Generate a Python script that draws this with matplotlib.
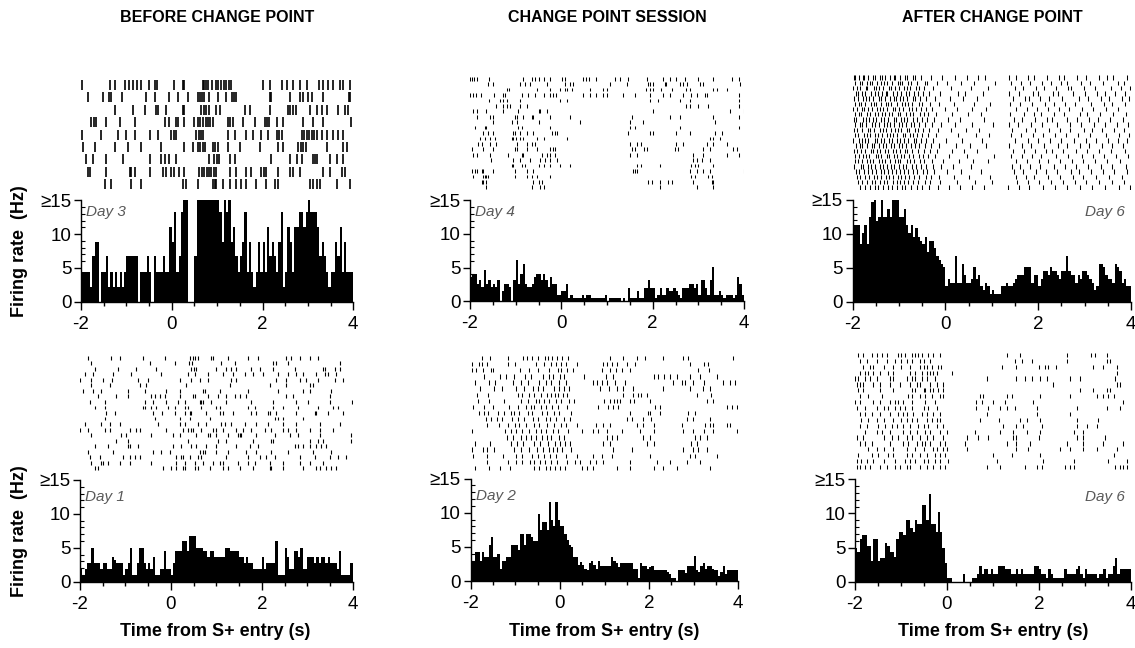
import matplotlib
matplotlib.use("Agg")
import matplotlib.pyplot as plt
import numpy as np
from matplotlib.ticker import MultipleLocator

plt.rcParams['font.family'] = ['Liberation Sans', 'DejaVu Sans']
plt.rcParams['axes.unicode_minus'] = False

# ---------------- data ----------------
BIN_WIDTH = 0.05
T_START, T_END = -2.0, 4.0
COLUMN_TITLES = ["BEFORE CHANGE POINT", "CHANGE POINT SESSION", "AFTER CHANGE POINT"]
X_TICKS = [-2, 0, 2, 4]
Y_TICKS = [0, 5, 10, 15]
Y_TICK_LABELS = ["0", "5", "10", "\u226515"]

# PSTH firing rates (Hz), 50 ms bins from -2 s to 4 s
HIST_BEFORE_DAY3 = [
    4.4, 4.4, 4.4, 4.4, 2.2, 6.7, 8.9, 8.9, 0.0, 4.4,
    4.4, 6.7, 2.2, 4.4, 2.2, 4.4, 2.2, 4.4, 2.2, 4.4,
    6.7, 6.7, 6.7, 6.7, 6.7, 0.0, 4.4, 4.4, 4.4, 6.7,
    4.4, 0.0, 6.7, 4.4, 4.4, 4.4, 6.7, 4.4, 4.4, 11.1,
    8.9, 13.3, 4.4, 6.7, 13.3, 15.6, 15.6, 0.0, 0.0, 0.0,
    6.7, 15.6, 15.6, 15.6, 15.6, 15.6, 15.6, 15.6, 15.6, 15.6,
    15.6, 13.3, 8.9, 15.6, 13.3, 15.6, 8.9, 11.1, 6.7, 4.4,
    6.7, 8.9, 13.3, 4.4, 8.9, 4.4, 2.2, 4.4, 8.9, 4.4,
    8.9, 4.4, 11.1, 6.7, 8.9, 6.7, 4.4, 8.9, 13.3, 2.2,
    4.4, 11.1, 8.9, 4.4, 11.1, 11.1, 13.3, 13.3, 11.1, 13.3,
    15.6, 13.3, 13.3, 13.3, 11.1, 6.7, 8.9, 6.7, 4.4, 2.2,
    4.4, 4.4, 8.9, 6.7, 11.1, 4.4, 8.9, 4.4, 4.4, 4.4]
HIST_CP_DAY4 = [
    3.6, 4.1, 4.1, 2.6, 3.1, 2.1, 4.6, 2.6, 3.1, 2.1,
    2.6, 2.1, 3.1, 0.0, 1.5, 2.6, 2.6, 2.1, 0.0, 3.1,
    6.2, 2.6, 4.1, 5.6, 2.6, 2.1, 2.1, 2.6, 3.6, 4.1,
    4.1, 3.1, 4.1, 3.1, 2.1, 3.6, 2.6, 2.6, 1.0, 1.0,
    1.5, 1.5, 2.6, 0.5, 1.0, 0.5, 0.5, 0.5, 0.5, 1.0,
    0.5, 1.0, 1.0, 0.5, 0.5, 0.5, 0.5, 0.5, 0.5, 1.0,
    0.0, 0.5, 0.5, 0.5, 0.5, 0.5, 0.0, 0.5, 0.0, 2.0,
    0.5, 0.5, 0.5, 1.5, 0.5, 0.5, 2.0, 2.0, 3.1, 2.0,
    2.0, 0.5, 1.0, 2.0, 1.0, 1.0, 2.0, 1.5, 1.5, 2.0,
    1.5, 1.0, 0.5, 2.0, 2.0, 2.0, 2.6, 2.6, 2.0, 2.6,
    1.0, 3.1, 3.1, 2.0, 1.0, 3.1, 5.1, 1.0, 1.0, 1.5,
    1.0, 0.5, 1.0, 1.0, 1.0, 0.5, 1.0, 3.6, 2.6, 1.0]
HIST_AFTER_DAY6_TOP = [
    11.3, 11.3, 11.3, 8.5, 10.2, 11.3, 8.5, 12.5, 14.7, 15.0,
    11.9, 12.5, 15.0, 12.5, 12.5, 13.6, 12.5, 15.0, 15.0, 15.0,
    12.5, 12.5, 13.6, 11.3, 10.2, 11.3, 9.6, 10.8, 9.6, 9.0,
    8.5, 9.6, 7.3, 9.0, 9.0, 7.9, 6.8, 6.2, 5.6, 5.1,
    2.3, 3.4, 2.8, 2.8, 6.8, 2.8, 2.8, 5.6, 4.0, 2.8,
    2.8, 3.4, 5.1, 3.4, 4.0, 2.3, 1.7, 2.8, 2.3, 1.1,
    1.7, 1.1, 1.1, 1.1, 2.3, 2.3, 2.8, 2.3, 2.3, 2.8,
    3.4, 4.0, 4.0, 4.0, 5.1, 5.1, 5.1, 2.8, 4.0, 4.0,
    2.3, 3.4, 4.5, 4.5, 4.0, 5.1, 4.5, 4.5, 4.0, 3.4,
    4.5, 4.5, 6.8, 4.5, 4.0, 4.0, 2.8, 4.0, 3.4, 4.5,
    4.5, 4.0, 3.4, 2.8, 1.7, 2.3, 5.6, 5.6, 5.1, 4.0,
    3.4, 3.4, 2.8, 5.6, 5.1, 4.5, 2.8, 3.4, 2.3, 2.3]
HIST_BEFORE_DAY1 = [
    1.8, 1.0, 1.8, 2.7, 2.7, 5.0, 2.7, 2.7, 2.7, 1.8,
    2.7, 2.7, 1.8, 1.8, 3.6, 3.2, 2.7, 2.7, 2.7, 1.0,
    1.8, 2.7, 5.0, 1.0, 1.0, 2.7, 5.0, 5.0, 2.7, 1.8,
    2.7, 1.8, 3.6, 1.0, 1.0, 1.8, 1.8, 4.5, 1.8, 1.8,
    1.0, 2.7, 4.5, 4.5, 4.5, 6.0, 6.0, 4.5, 6.8, 6.8,
    6.8, 5.0, 5.0, 5.0, 4.5, 4.5, 3.6, 4.5, 4.5, 3.6,
    3.6, 3.6, 3.6, 3.6, 5.0, 5.0, 4.5, 4.5, 4.5, 4.5,
    3.6, 3.6, 2.7, 3.6, 2.7, 2.7, 1.8, 1.8, 1.8, 1.8,
    3.6, 1.8, 2.7, 2.7, 2.7, 2.7, 6.0, 1.0, 1.0, 1.0,
    5.0, 3.6, 1.8, 1.8, 4.5, 4.5, 3.6, 5.0, 1.8, 1.8,
    3.6, 3.6, 3.6, 2.7, 3.6, 2.7, 3.6, 3.6, 2.7, 3.6,
    2.7, 2.7, 2.7, 1.8, 4.5, 1.0, 1.0, 1.0, 1.0, 2.7]
HIST_CP_DAY2 = [
    3.0, 3.0, 4.2, 4.2, 3.0, 4.2, 3.5, 3.5, 5.2, 6.4,
    3.5, 3.5, 4.0, 1.8, 3.0, 3.0, 3.5, 3.5, 5.2, 5.2,
    5.2, 4.5, 6.9, 6.9, 5.2, 6.9, 6.9, 6.4, 5.8, 5.8,
    9.8, 7.5, 8.7, 8.7, 7.5, 11.5, 9.0, 8.0, 11.5, 9.0,
    8.1, 8.1, 6.9, 6.0, 5.2, 5.0, 3.5, 3.5, 2.4, 2.8,
    2.4, 1.8, 1.6, 2.6, 3.0, 2.4, 1.8, 3.0, 2.2, 2.2,
    2.2, 2.2, 2.2, 3.5, 3.0, 2.6, 2.0, 2.6, 2.6, 2.6,
    2.6, 2.6, 2.6, 1.8, 1.8, 0.5, 2.6, 2.2, 2.2, 1.8,
    2.0, 2.2, 1.6, 1.6, 1.6, 1.6, 1.6, 1.6, 1.3, 1.0,
    0.5, 0.5, 0.0, 1.6, 1.6, 1.6, 1.2, 2.2, 2.2, 2.2,
    3.6, 1.6, 1.3, 2.2, 2.6, 1.8, 2.2, 2.2, 1.8, 1.6,
    1.6, 0.8, 1.3, 2.2, 1.0, 1.6, 1.6, 1.6, 1.6, 1.6]
HIST_AFTER_DAY6_BOTTOM = [
    5.0, 4.3, 6.2, 6.8, 6.8, 5.2, 5.2, 3.0, 6.2, 6.2,
    3.0, 3.5, 3.5, 5.6, 5.2, 4.4, 4.4, 3.6, 6.2, 7.3,
    7.3, 6.8, 9.0, 9.0, 7.9, 7.3, 9.0, 8.5, 8.5, 11.3,
    11.3, 9.0, 12.9, 8.5, 8.5, 7.3, 10.2, 7.3, 5.0, 2.8,
    0.6, 0.6, 0.0, 0.0, 0.0, 0.0, 0.0, 1.2, 0.0, 0.0,
    0.0, 0.6, 0.6, 1.2, 2.3, 1.2, 1.8, 1.8, 1.2, 1.8,
    1.2, 1.2, 2.3, 2.3, 2.3, 1.8, 1.8, 1.8, 1.2, 1.2,
    1.8, 1.2, 1.8, 1.2, 1.2, 1.2, 1.2, 1.2, 2.3, 2.3,
    1.8, 1.2, 1.2, 0.6, 1.8, 1.2, 0.6, 0.6, 0.6, 0.6,
    0.6, 1.8, 1.2, 1.2, 1.2, 1.2, 1.8, 2.3, 1.2, 0.6,
    1.8, 1.2, 1.2, 1.2, 1.2, 0.6, 1.2, 1.2, 1.8, 0.6,
    1.2, 1.2, 2.3, 3.4, 1.2, 1.8, 1.8, 1.8, 1.8, 1.8]

# Raster spike times (s), one list per trial, top trial first
RASTER_BEFORE_DAY3 = [
    [-1.97, -1.37, -1.26, -1.04, -0.94, -0.86, -0.77, -0.67, -0.50, -0.36, -0.33, 0.04, 0.25, 0.28, 0.69, 0.72, 0.76, 0.80, 0.89, 0.98, 1.02, 1.09, 1.14, 1.20, 1.26, 1.31, 2.00, 2.16, 2.42, 2.53, 2.67, 2.82, 2.99, 3.25, 3.34, 3.44, 3.56, 3.70, 3.78, 3.93],
    [-1.85, -1.52, -1.39, -1.33, -1.09, -0.56, -0.38, -0.05, 0.14, 0.36, 0.58, 0.63, 0.67, 0.72, 0.83, 1.02, 1.20, 1.33, 1.37, 1.41, 2.16, 2.19, 2.60, 2.82, 2.89, 3.00, 3.08, 3.34, 3.91, 3.93],
    [-1.26, -0.86, -0.60, -0.34, -0.30, -0.12, 0.25, 0.28, 0.65, 0.70, 0.76, 0.82, 0.98, 1.06, 1.61, 1.72, 2.16, 2.56, 2.61, 2.67, 2.73, 3.04, 3.19, 3.30, 3.41, 3.67, 3.81, 3.88],
    [-1.78, -1.72, -1.68, -1.44, -1.15, -0.82, -0.16, -0.05, 0.10, 0.14, 0.28, 0.50, 0.58, 0.63, 0.69, 0.75, 0.80, 0.85, 0.91, 1.24, 1.29, 1.34, 1.57, 1.83, 2.05, 2.10, 2.15, 2.31, 2.45, 2.89, 3.11, 3.34, 3.96],
    [-1.97, -1.56, -1.19, -1.00, -0.82, -0.49, -0.30, -0.01, 0.04, 0.09, 0.54, 0.59, 0.64, 0.69, 1.24, 1.39, 1.64, 1.79, 1.97, 2.12, 2.31, 2.36, 2.42, 2.86, 2.91, 2.97, 3.03, 3.09, 3.14, 3.19, 3.30, 3.41, 3.56, 3.67, 3.78],
    [-1.96, -1.70, -1.26, -0.97, -0.67, -0.23, 0.28, 0.47, 0.58, 0.63, 0.69, 0.74, 0.91, 0.96, 1.02, 1.24, 1.50, 1.94, 2.35, 2.46, 2.79, 2.84, 2.90, 2.96, 3.41, 3.78, 3.87],
    [-1.89, -1.74, -1.44, -1.08, -0.49, -0.23, -0.16, -0.05, 0.10, 0.83, 0.94, 1.00, 1.05, 1.28, 1.39, 2.19, 2.60, 2.75, 2.86, 3.11, 3.15, 3.19, 3.48, 3.63, 3.78],
    [-1.85, -1.81, -1.44, -0.93, -0.89, -0.82, -0.49, -0.19, -0.12, -0.01, 0.06, 0.17, 0.28, 0.61, 0.67, 0.72, 0.77, 0.82, 0.87, 0.92, 0.98, 1.28, 1.42, 1.64, 1.75, 1.97, 2.03, 2.08, 2.35, 2.60, 2.68, 2.82, 3.34, 3.48, 3.74, 3.81],
    [-1.48, -1.33, -0.89, -0.67, 0.25, 0.32, 0.58, 0.91, 0.95, 0.98, 1.13, 1.28, 1.42, 1.53, 1.64, 1.86, 2.08, 2.27, 2.35, 3.04, 3.11, 3.19, 3.26, 3.63, 3.93],
]

RASTER_CP_DAY4 = [
    [-1.99, -1.96, -1.91, -1.85, -1.58, -0.83, -0.65, -0.58, -0.50, -0.39, -0.25, 0.01, 0.08, 0.48, 0.55, 0.61, 0.76, 1.18, 1.28, 1.47, 1.87, 2.23, 2.38, 2.52, 2.71, 3.00, 3.33, 3.73, 3.88],
    [-1.60, -1.49, -0.91, -0.80, -0.69, -0.32, 0.08, 0.19, 0.26, 1.07, 1.43, 1.90, 1.94, 2.01, 2.27, 2.30, 2.59, 2.67, 2.76, 3.04, 3.11, 3.91],
    [-1.20, -1.14, -0.54, -0.25, -0.03, 0.08, 0.12, 0.23, 0.63, 0.91, 0.99, 1.85, 1.94, 2.01, 2.19, 2.42, 2.74, 2.82, 3.33, 3.40, 3.62],
    [-1.99, -1.94, -1.87, -1.77, -1.47, -1.27, -1.23, -0.87, -0.72, -0.58, -0.39, -0.25, -0.18, -0.12, 0.48, 0.63, 0.77, 0.92, 0.99, 1.36, 1.62, 1.94, 2.23, 2.38, 2.67, 2.85, 2.96, 3.15, 3.18, 3.88],
    [-1.58, -1.34, -1.27, -1.20, -0.91, -0.03, 0.12, 1.94, 2.12, 2.59, 2.82, 3.88],
    [-1.42, -1.27, -1.20, -1.12, -0.91, -0.76, 2.74, 2.82, 3.00, 3.21, 3.88],
    [-1.93, -1.85, -1.64, -1.27, -0.94, -0.50, -0.47, -0.32, 2.01, 3.69, 3.99],
    [-1.85, -1.56, -1.49, -1.01, -0.98, -0.83, -0.65, -0.61, -0.25, 0.19, 1.54, 2.38, 2.59, 3.33, 3.88],
    [-1.49, -1.09, -0.98, -0.50, 0.41, 1.50, 1.78, 3.37],
    [-1.89, -1.67, -1.64, -0.94, -0.87, -0.25, 1.50, 1.62, 2.59, 3.88],
    [-1.71, -1.60, -1.49, -1.05, -1.01, -0.91, -0.76, -0.61, -0.21, -0.14, -0.10, 1.47, 1.94, 2.01, 2.52, 2.82, 3.37, 3.51],
    [-1.78, -1.67, -1.56, -1.45, -1.09, -1.05, -0.99, -0.91, -0.83, -0.54, -0.39, 0.12, 3.26, 3.33, 3.47],
    [-1.82, -1.74, -1.56, -1.42, -0.98, -0.76, -0.65, -0.58, 1.50, 1.66, 1.74, 2.52, 2.67, 3.18, 3.33, 3.62],
    [-1.96, -1.71, -1.49, -1.01, -0.98, -0.76, -0.54, -0.25, -0.18, -0.14, 1.54, 1.62, 1.80, 1.87, 2.49, 2.56, 3.11, 3.26, 3.77, 3.84],
    [-1.93, -1.85, -1.56, -1.16, -0.87, -0.83, -0.43, -0.32, -0.25, -0.14, 1.50, 1.66, 2.89, 3.11, 3.62, 3.88],
    [-1.53, -1.05, -0.91, -0.69, -0.47, -0.36, -0.25, -0.10, 2.89, 2.96, 3.07, 3.26],
    [-1.09, -1.05, -0.87, -0.80, -0.50, -0.39, -0.25, -0.03, 0.19, 1.66, 1.74, 2.16, 2.85, 2.93, 3.00, 3.33],
    [-1.96, -1.89, -1.85, -1.74, -1.71, -1.49, -1.01, -0.76, -0.61, 1.58, 1.62, 1.66, 2.82, 2.96, 3.11, 3.26, 3.99],
    [-1.93, -1.71, -1.67, -1.64, -1.60, -1.01, -0.76, -0.65, -0.54, -0.25, 2.85, 2.93, 3.21, 3.29],
    [-1.74, -1.71, -1.64, -0.61, -0.50, -0.43, 1.90, 1.98, 2.16, 2.34, 2.42, 2.89, 3.29, 3.33],
    [-1.64, -0.65, -0.47, -0.39, 2.16, 2.96, 3.33],
]

RASTER_AFTER_DAY6_TOP = [
    [-1.98, -1.94, -1.87, -1.78, -1.75, -1.66, -1.57, -1.53, -1.41, -1.36, -1.31, -1.19, -1.12, -1.09, -0.97, -0.88, -0.84, -0.71, -0.66, -0.52, -0.31, -0.08, 0.21, 0.47, 0.70, 0.86, 1.38, 1.52, 1.77, 1.91, 2.19, 2.44, 2.55, 2.83, 3.04, 3.31, 3.49, 3.61, 3.92],
    [-1.96, -1.85, -1.81, -1.70, -1.62, -1.59, -1.48, -1.39, -1.33, -1.27, -1.16, -1.03, -0.98, -0.93, -0.80, -0.74, -0.61, -0.44, -0.39, -0.18, 0.03, 0.33, 0.61, 1.06, 1.42, 1.63, 1.83, 2.08, 2.27, 2.49, 2.61, 2.93, 3.12, 3.40, 3.71, 3.84],
    [-1.99, -1.91, -1.84, -1.72, -1.69, -1.55, -1.50, -1.44, -1.34, -1.22, -1.18, -1.08, -1.00, -0.89, -0.82, -0.77, -0.63, -0.56, -0.47, -0.26, 0.12, 0.54, 0.91, 1.49, 1.67, 1.95, 2.12, 2.38, 2.64, 2.71, 2.98, 3.23, 3.57, 3.78, 3.97],
    [-1.93, -1.88, -1.79, -1.73, -1.61, -1.53, -1.46, -1.37, -1.29, -1.25, -1.13, -1.05, -0.96, -0.86, -0.79, -0.68, -0.60, -0.49, -0.36, -0.12, 0.27, 0.43, 0.80, 1.36, 1.58, 1.88, 1.99, 2.31, 2.42, 2.76, 3.01, 3.27, 3.45, 3.66, 3.88],
    [-1.97, -1.89, -1.77, -1.71, -1.64, -1.56, -1.43, -1.38, -1.31, -1.20, -1.10, -1.06, -0.99, -0.91, -0.83, -0.70, -0.65, -0.54, -0.41, -0.22, 0.09, 0.38, 0.69, 1.45, 1.71, 1.80, 2.03, 2.24, 2.52, 2.87, 3.08, 3.36, 3.52, 3.80, 3.95],
    [-1.95, -1.86, -1.82, -1.74, -1.60, -1.54, -1.49, -1.40, -1.28, -1.23, -1.17, -1.04, -0.94, -0.87, -0.81, -0.73, -0.58, -0.50, -0.33, -0.15, 0.18, 0.62, 0.97, 1.40, 1.60, 1.86, 2.15, 2.35, 2.58, 2.80, 3.14, 3.42, 3.59, 3.86],
    [-1.99, -1.90, -1.80, -1.76, -1.67, -1.58, -1.47, -1.42, -1.35, -1.26, -1.14, -1.09, -1.01, -0.92, -0.78, -0.72, -0.64, -0.53, -0.43, -0.28, -0.02, 0.24, 0.57, 0.88, 1.52, 1.75, 1.97, 2.21, 2.45, 2.66, 2.95, 3.18, 3.47, 3.73],
    [-1.94, -1.87, -1.83, -1.69, -1.63, -1.51, -1.45, -1.36, -1.30, -1.21, -1.15, -1.02, -0.97, -0.85, -0.76, -0.69, -0.55, -0.46, -0.37, -0.20, 0.15, 0.49, 0.76, 1.39, 1.69, 1.90, 2.06, 2.33, 2.56, 2.89, 3.06, 3.33, 3.62, 3.90],
    [-1.98, -1.92, -1.78, -1.72, -1.65, -1.57, -1.50, -1.39, -1.32, -1.24, -1.12, -1.07, -0.95, -0.90, -0.84, -0.71, -0.62, -0.51, -0.40, -0.25, 0.06, 0.31, 0.84, 1.47, 1.65, 1.92, 2.18, 2.29, 2.61, 2.83, 3.10, 3.29, 3.54, 3.82],
    [-1.96, -1.84, -1.80, -1.71, -1.59, -1.52, -1.44, -1.33, -1.27, -1.19, -1.11, -1.00, -0.93, -0.86, -0.75, -0.67, -0.57, -0.45, -0.30, -0.10, 0.20, 0.58, 1.02, 1.37, 1.56, 1.84, 2.09, 2.40, 2.69, 2.92, 3.21, 3.43, 3.69, 3.93],
    [-1.97, -1.90, -1.81, -1.68, -1.62, -1.55, -1.41, -1.35, -1.29, -1.18, -1.08, -1.03, -0.96, -0.83, -0.79, -0.66, -0.59, -0.48, -0.35, -0.17, 0.11, 0.45, 0.73, 1.44, 1.73, 1.94, 2.23, 2.47, 2.68, 2.99, 3.16, 3.38, 3.64, 3.85],
    [-1.95, -1.88, -1.76, -1.70, -1.63, -1.51, -1.46, -1.37, -1.25, -1.20, -1.13, -1.04, -0.91, -0.88, -0.77, -0.70, -0.61, -0.50, -0.38, -0.21, 0.26, 0.66, 0.94, 1.41, 1.62, 1.89, 2.11, 2.36, 2.59, 2.85, 3.12, 3.46, 3.75, 3.96],
    [-1.99, -1.86, -1.79, -1.73, -1.66, -1.53, -1.48, -1.40, -1.32, -1.22, -1.16, -1.05, -0.98, -0.90, -0.80, -0.68, -0.63, -0.53, -0.42, -0.27, 0.01, 0.36, 0.79, 1.50, 1.78, 1.99, 2.26, 2.50, 2.77, 3.02, 3.25, 3.50, 3.71, 3.91],
    [-1.92, -1.85, -1.81, -1.69, -1.58, -1.54, -1.43, -1.34, -1.28, -1.17, -1.12, -1.01, -0.94, -0.85, -0.74, -0.65, -0.56, -0.44, -0.32, -0.13, 0.22, 0.52, 0.87, 1.38, 1.66, 1.85, 2.13, 2.43, 2.63, 2.90, 3.09, 3.37, 3.58, 3.83],
    [-1.98, -1.90, -1.82, -1.74, -1.61, -1.56, -1.47, -1.41, -1.30, -1.23, -1.14, -1.07, -0.99, -0.87, -0.82, -0.72, -0.60, -0.47, -0.34, -0.19, 0.14, 0.41, 0.68, 1.46, 1.70, 1.93, 2.16, 2.30, 2.54, 2.82, 3.05, 3.30, 3.56, 3.87],
    [-1.96, -1.87, -1.78, -1.72, -1.64, -1.50, -1.45, -1.38, -1.26, -1.21, -1.10, -1.04, -0.95, -0.89, -0.78, -0.69, -0.58, -0.49, -0.37, -0.23, 0.07, 0.47, 1.04, 1.42, 1.64, 1.87, 2.07, 2.39, 2.65, 2.94, 3.19, 3.41, 3.67, 3.94],
    [-1.94, -1.89, -1.80, -1.70, -1.62, -1.57, -1.44, -1.36, -1.31, -1.19, -1.09, -1.02, -0.97, -0.84, -0.76, -0.67, -0.55, -0.46, -0.29, -0.06, 0.29, 0.59, 0.92, 1.53, 1.76, 2.01, 2.20, 2.46, 2.72, 2.97, 3.22, 3.48, 3.77],
    [-1.97, -1.83, -1.77, -1.68, -1.60, -1.52, -1.42, -1.35, -1.27, -1.18, -1.11, -1.00, -0.92, -0.86, -0.73, -0.64, -0.52, -0.41, -0.26, -0.09, 0.17, 0.56, 1.43, 1.61, 1.82, 2.04, 2.34, 2.57, 2.81, 3.07, 3.35, 3.60, 3.89],
    [-1.93, -1.86, -1.75, -1.67, -1.59, -1.49, -1.40, -1.33, -1.24, -1.15, -1.06, -0.99, -0.90, -0.81, -0.71, -0.62, -0.48, -0.39, -0.24, 0.04, 0.34, 0.77, 1.48, 1.68, 1.96, 2.17, 2.41, 2.70, 2.88, 3.13, 3.39, 3.63, 3.92],
    [-1.91, -1.84, -1.73, -1.65, -1.55, -1.47, -1.39, -1.29, -1.22, -1.13, -1.03, -0.96, -0.88, -0.79, -0.68, -0.57, -0.43, -0.31, -0.14, 0.19, 0.51, 0.96, 1.51, 1.74, 1.91, 2.22, 2.48, 2.74, 2.96, 3.24, 3.53, 3.81],
    [-1.88, -1.80, -1.69, -1.58, -1.51, -1.42, -1.32, -1.25, -1.14, -1.05, -0.98, -0.89, -0.80, -0.70, -0.59, -0.45, -0.33, -0.11, 0.25, 0.64, 1.00, 1.55, 1.79, 2.02, 2.28, 2.53, 2.79, 3.03, 3.32, 3.58, 3.85],
    [-1.85, -1.74, -1.63, -1.53, -1.46, -1.34, -1.23, -1.16, -1.04, -0.93, -0.87, -0.75, -0.62, -0.50, -0.35, -0.16, 0.08, 0.32, 0.58, 0.83, 1.35, 1.59, 1.81, 2.10, 2.37, 2.62, 2.91, 3.15, 3.44, 3.74, 3.97],
]

RASTER_BEFORE_DAY1 = [
    [-1.83, -1.31, -1.13, -0.62, -0.14, 0.41, 0.48, 0.54, 0.59, 0.89, 0.93, 1.26, 1.70, 1.92, 2.53, 2.65, 2.83, 3.05, 3.24],
    [-1.75, -0.47, 0.08, 0.40, 0.47, 1.11, 1.40, 2.25, 2.32, 2.58, 3.72],
    [-1.68, -1.17, -0.76, -0.32, 0.45, 0.50, 0.56, 1.00, 1.22, 1.33, 1.44, 1.77, 1.95, 2.25, 2.72, 3.35, 3.38, 3.60, 3.72],
    [-1.90, -1.72, -1.28, -0.87, -0.21, 0.37, 0.52, 0.81, 1.15, 1.37, 1.62, 1.81, 2.03, 2.36, 2.58, 2.76, 2.91, 3.20, 3.38, 3.46, 3.64],
    [-1.99, -1.75, -1.50, -1.29, -0.73, -0.51, 0.19, 0.45, 0.63, 0.81, 1.33, 1.44, 2.32, 2.54, 2.83, 2.98, 3.24, 3.60, 3.79],
    [-1.75, -1.35, -0.69, -0.54, 0.34, 1.29, 2.17, 2.54, 3.05, 3.12],
    [-1.94, -1.72, -1.53, -0.95, -0.58, -0.10, 0.19, 0.70, 0.74, 1.07, 1.70, 2.36, 2.91, 3.05, 3.53],
    [-1.61, -1.20, -0.95, -0.43, -0.36, -0.25, -0.14, 0.19, 0.48, 0.52, 0.81, 1.04, 1.22, 1.40, 1.51, 1.66, 2.54, 2.69, 3.49],
    [-1.78, -1.46, -0.58, -0.40, -0.10, 0.15, 0.30, 0.63, 0.67, 0.70, 0.89, 1.22, 1.77, 2.25, 2.76, 3.02, 3.49, 3.98],
    [-1.68, -1.46, -0.62, -0.58, -0.43, -0.32, -0.07, 0.08, 0.30, 0.37, 0.67, 1.00, 1.07, 1.70, 1.84, 2.25, 2.47, 2.80, 3.24, 3.57, 3.68],
    [-1.42, -1.24, -0.40, -0.19, 0.08, 0.30, 0.41, 0.45, 0.78, 1.07, 1.15, 1.37, 1.77, 1.88, 2.14, 2.17, 2.32, 2.76, 3.16, 3.20, 3.46, 3.79],
    [-1.46, -0.36, 0.19, 0.41, 0.85, 2.28, 2.36, 2.47, 2.91],
    [-1.90, -1.53, -1.35, -1.13, -0.29, 0.19, 0.30, 0.59, 0.78, 1.11, 1.18, 1.33, 1.62, 1.88, 2.14, 2.47, 2.76, 3.27, 3.72],
    [-1.99, -1.83, -1.46, -1.35, -0.91, -0.76, -0.69, -0.10, 0.26, 0.37, 0.45, 0.48, 0.67, 0.93, 1.00, 1.15, 1.44, 1.59, 1.77, 2.06, 2.21, 2.47, 2.58, 2.76, 3.05, 3.27, 3.57],
    [-1.75, -1.09, -0.98, -0.43, 0.04, 0.19, 0.56, 0.81, 0.85, 1.00, 1.26, 1.48, 1.51, 1.55, 1.88, 2.28, 2.61, 2.80, 3.27, 3.97],
    [-1.20, -0.95, 0.37, 1.04, 1.22, 1.81, 2.21, 2.25, 3.05, 3.24, 3.35, 3.97],
    [-1.68, -1.39, -0.95, -0.91, -0.73, 0.04, 0.23, 0.45, 0.56, 0.78, 1.00, 1.44, 1.73, 1.92, 2.72, 2.80, 2.91, 3.05, 3.20, 3.31, 3.42],
    [-1.83, -1.28, -0.40, -0.21, -0.03, 0.63, 0.70, 0.74, 1.00, 1.26, 1.66, 1.88, 2.21, 2.58, 3.13, 3.53],
    [-1.79, -1.57, -1.06, -0.91, -0.80, -0.69, 0.12, 0.23, 0.26, 0.41, 0.59, 0.67, 1.22, 1.70, 1.95, 2.10, 2.28, 2.83, 3.16, 3.49, 3.68, 3.86],
    [-1.75, -1.53, -1.50, -1.39, -1.13, -0.91, -0.43, 0.12, 0.30, 0.52, 0.70, 0.93, 1.07, 1.15, 1.48, 1.70, 1.84, 2.17, 2.47, 2.83, 3.05, 3.35],
    [-1.68, -1.61, -0.18, 0.01, 0.12, 0.26, 0.30, 0.52, 0.59, 0.85, 1.15, 1.26, 1.51, 1.81, 2.17, 2.21, 2.47, 2.91, 3.20, 3.27, 3.42, 3.53, 3.64],
]

RASTER_CP_DAY2 = [
    [-1.75, -1.57, -1.16, -0.82, -0.74, -0.63, -0.48, -0.33, -0.26, -0.18, -0.07, 0.04, 0.19, 1.12, 1.42, 1.72, 1.91, 2.32, 2.77, 2.88, 3.89],
    [-1.98, -1.81, -1.75, -1.64, -1.16, -1.01, -0.54, -0.35, -0.20, -0.09, 0.02, 0.14, 0.38, 0.97, 1.05, 1.16, 1.29, 1.50, 1.68, 2.92, 3.22, 3.33],
    [-1.96, -1.87, -1.72, -1.55, -1.49, -0.89, -0.69, -0.50, -0.24, -0.05, 0.03, 0.16, 0.30, 0.94, 1.12, 1.25, 1.39, 1.57, 3.10, 3.35],
    [-1.70, -1.34, -1.21, -1.03, -0.78, -0.65, -0.39, -0.25, -0.16, 0.01, 0.10, 0.53, 1.03, 1.18, 2.10, 2.21, 2.34, 2.47, 2.62, 2.92, 3.14, 3.52],
    [-1.90, -1.59, -1.45, -1.06, -0.88, -0.72, -0.46, -0.31, -0.19, -0.02, 0.13, 0.75, 0.84, 0.94, 1.05, 1.24, 1.46, 2.54, 2.73, 2.81, 2.99, 3.22, 3.66, 3.82, 3.93],
    [-1.79, -1.47, -1.29, -0.99, -0.80, -0.61, -0.50, -0.39, -0.13, -0.01, 0.10, 0.21, 0.90, 1.09, 1.29, 1.42, 1.65, 2.32, 2.92, 3.20, 3.37],
    [-1.85, -1.62, -0.95, -0.84, -0.69, -0.58, -0.43, -0.28, -0.20, -0.12, -0.04, 0.06, 0.17, 1.42, 1.63, 1.76, 1.81, 1.95, 3.07, 3.39],
    [-1.83, -1.60, -1.25, -0.88, -0.71, -0.54, -0.46, -0.35, -0.24, -0.09, 0.02, 0.20, 0.32, 0.99, 1.12, 1.21, 1.27, 1.35, 1.57, 1.66, 2.02, 3.29, 3.44],
    [-1.94, -1.70, -1.51, -1.14, -0.95, -0.76, -0.65, -0.58, -0.43, -0.31, -0.18, -0.05, 0.17, 0.86, 1.07, 1.20, 1.30, 2.13, 2.25, 3.74, 3.85, 3.96],
    [-1.81, -1.70, -1.62, -1.38, -1.25, -1.10, -1.02, -0.91, -0.72, -0.62, -0.41, -0.28, -0.13, -0.01, 0.24, 1.57, 1.98, 2.03, 2.25, 2.88, 3.03],
    [-1.66, -1.55, -1.42, -1.29, -1.08, -0.95, -0.80, -0.61, -0.50, -0.32, -0.23, -0.08, 0.10, 0.23, 1.50, 1.61, 1.87, 2.04, 2.84, 2.99, 3.37],
    [-1.64, -1.36, -1.17, -1.01, -0.91, -0.76, -0.58, -0.47, -0.28, -0.14, 0.02, 0.14, 0.38, 0.82, 0.97, 1.12, 1.72, 1.87, 2.10, 2.73, 3.25, 3.37, 3.44, 3.74, 3.82],
    [-1.98, -1.23, -1.10, -0.99, -0.84, -0.69, -0.54, -0.43, -0.32, -0.16, -0.05, 0.19, 0.49, 0.75, 0.86, 1.05, 1.39, 1.80, 2.10, 2.77, 2.99, 3.22, 3.44, 3.96],
    [-1.19, -1.06, -0.87, -0.76, -0.65, -0.53, -0.40, -0.29, -0.21, -0.02, 0.09, 1.05, 1.16, 1.27, 1.87, 2.02, 3.03, 3.14, 3.29],
    [-1.90, -1.57, -1.10, -0.96, -0.83, -0.59, -0.44, -0.27, -0.10, 0.01, 0.11, 0.22, 0.97, 1.12, 1.95, 2.10, 2.95, 3.07],
    [-1.96, -1.72, -1.64, -1.47, -1.03, -0.87, -0.70, -0.51, -0.38, -0.24, -0.16, -0.06, 0.05, 0.26, 1.20, 1.61, 2.77, 2.99, 3.10, 3.29],
    [-1.94, -1.64, -1.27, -0.99, -0.85, -0.62, -0.49, -0.36, -0.23, -0.08, 0.14, 0.38, 0.75, 0.94, 1.16, 2.02, 2.92, 3.03, 3.52],
    [-1.64, -1.16, -0.98, -0.84, -0.68, -0.57, -0.44, -0.34, -0.21, -0.06, 0.15, 0.34, 0.45, 0.68, 0.82, 0.97, 1.57, 2.17, 2.47, 2.84, 3.14],
    [-1.90, -1.60, -1.34, -1.12, -0.57, -0.47, -0.32, -0.23, -0.12, 0.01, 0.12, 0.49, 0.60, 0.75, 1.27, 1.57, 2.10, 2.32, 2.62, 3.37],
]

RASTER_AFTER_DAY6_BOTTOM = [
    [-1.93, -1.82, -1.64, -1.53, -1.42, -1.31, -1.06, -0.99, -0.91, -0.77, -0.70, -0.62, -0.55, -0.41, -0.30, -0.15, 1.30, 1.59, 2.60, 3.14, 3.22, 3.47],
    [-1.89, -1.75, -1.53, -1.31, -1.13, -0.99, -0.88, -0.77, -0.59, -0.51, -0.37, 1.48, 1.62, 1.84, 2.60, 3.47, 3.54],
    [-1.82, -1.67, -1.60, -1.38, -1.17, -0.99, -0.80, -0.59, -0.51, -0.44, -0.33, -0.19, -0.12, 1.19, 1.51, 1.99, 2.13, 2.20, 2.38, 3.18, 3.40, 3.69],
    [-1.89, -1.78, -1.71, -1.60, -1.46, -1.28, -1.17, -0.80, -0.70, -0.55, -0.44, -0.37, -0.30, -0.22, 0.10, 3.69],
    [-1.99, -1.93, -1.78, -1.67, -1.53, -1.24, -1.17, -0.88, -0.77, -0.70, -0.55, -0.44, -0.26, 0.86, 1.51, 1.70, 1.84, 2.02, 2.17, 2.67, 2.89, 3.65],
    [-1.96, -1.89, -1.82, -1.60, -1.46, -1.24, -1.02, -0.80, -0.66, -0.59, -0.37, -0.22, -0.08, 2.31, 3.69, 3.76],
    [-1.93, -1.82, -1.46, -1.17, -0.77, -0.70, -0.51, -0.48, -0.37, -0.30, -0.19, -0.08, 2.89, 3.18, 3.47, 3.54],
    [-1.89, -1.71, -1.42, -0.84, -0.77, -0.59, -0.48, -0.33, -0.15, -0.08, 0.72, 0.79, 1.30, 1.41, 2.02, 2.67, 3.25, 3.40, 3.51, 3.62],
    [-1.99, -1.89, -1.60, -1.46, -1.24, -1.13, -1.06, -0.95, -0.77, -0.48, -0.26, 0.64, 0.75, 1.01, 1.26, 1.88, 3.83],
    [-1.96, -1.78, -1.53, -1.38, -1.28, -1.13, -1.02, -0.91, -0.77, -0.51, -0.41, -0.22, 0.64, 0.90, 1.15, 1.30, 1.48, 1.95, 2.82, 3.47, 3.76],
    [-1.89, -1.78, -1.64, -1.46, -1.24, -1.06, -0.95, -0.88, -0.73, -0.55, -0.44, -0.30, -0.15, 0.86, 1.95, 2.67],
    [-1.86, -1.71, -1.53, -1.38, -1.17, -0.99, -0.88, -0.77, -0.66, -0.44, -0.33, -0.22, -0.15, 0.72, 1.12, 1.59, 1.73, 2.02, 2.82, 3.29],
    [-1.89, -1.75, -1.49, -1.35, -1.20, -1.09, -0.95, -0.80, -0.62, -0.51, -0.41, -0.22, -0.08, 1.22, 1.51, 1.66, 2.06, 2.82, 3.04, 3.25],
    [-1.78, -1.53, -1.42, -1.24, -0.95, -0.80, -0.66, -0.48, -0.37, -0.15, -0.01, 0.61, 1.15, 1.44, 1.73, 2.02, 2.75, 2.96],
    [-1.96, -1.82, -1.38, -1.20, -1.06, -0.88, -0.77, -0.59, -0.44, -0.30, -0.08, 0.43, 0.68, 0.90, 1.44, 1.51, 1.99, 2.82, 2.96, 3.43],
    [-1.89, -1.78, -1.64, -1.24, -0.95, -0.84, -0.66, -0.55, -0.48, -0.37, -0.15, -0.04, 0.39, 1.30, 1.51, 1.80, 2.60, 2.96, 3.40, 3.83],
    [-1.71, -1.53, -1.38, -1.17, -0.88, -0.70, -0.51, -0.30, -0.22, -0.08, -0.01, 0.43, 1.51, 1.77, 2.46, 2.67, 2.96, 3.25, 3.69],
    [-1.93, -1.64, -1.49, -1.28, -1.17, -0.88, -0.77, -0.59, -0.44, -0.26, -0.15, -0.04, 1.01, 1.41, 2.02, 3.62],
    [-1.96, -1.86, -1.75, -1.60, -1.38, -1.13, -0.91, -0.80, -0.70, -0.51, -0.41, -0.26, -0.15, 0.03, 1.08, 2.09, 2.75, 3.51, 3.91],
    [-1.96, -1.89, -1.78, -1.67, -1.46, -1.31, -1.13, -1.02, -0.88, -0.80, -0.59, -0.44, -0.30, -0.15, -0.04, 0.86, 1.15, 1.70, 1.95, 2.06, 2.57, 2.67, 2.75, 3.65, 3.76, 3.83, 3.91],
]

# ---------------- layout ----------------
W, H = 1135, 648
fig = plt.figure(figsize=(W / 100, H / 100), dpi=100)


def rect(x0, x1, ytop, ybot):
    return [x0 / W, 1 - ybot / H, (x1 - x0) / W, (ybot - ytop) / H]


PANELS = [
    # top row
    dict(hist=HIST_BEFORE_DAY3, raster=RASTER_BEFORE_DAY3, day="Day 3", side="left",
         hx=(81, 353.3), hy=(200.3, 301.7), ry=(78.8, 190.4), ll=0.8, lw=1.2),
    dict(hist=HIST_CP_DAY4, raster=RASTER_CP_DAY4, day="Day 4", side="left",
         hx=(470, 744), hy=(200.3, 301.3), ry=(76, 190), ll=0.7, lw=0.75),
    dict(hist=HIST_AFTER_DAY6_TOP, raster=RASTER_AFTER_DAY6_TOP, day="Day 6", side="right",
         hx=(852.7, 1131), hy=(200, 301.7), ry=(75, 190), ll=0.85, lw=0.75),
    # bottom row
    dict(hist=HIST_BEFORE_DAY1, raster=RASTER_BEFORE_DAY1, day="Day 1", side="left",
         hx=(80, 352.7), hy=(480, 581.7), ry=(355, 471), ll=0.7, lw=0.8),
    dict(hist=HIST_CP_DAY2, raster=RASTER_CP_DAY2, day="Day 2", side="left",
         hx=(470.7, 738.3), hy=(478.5, 581), ry=(355, 471), ll=0.7, lw=0.75),
    dict(hist=HIST_AFTER_DAY6_BOTTOM, raster=RASTER_AFTER_DAY6_BOTTOM, day="Day 6", side="right",
         hx=(855, 1131), hy=(479.3, 581.7), ry=(352, 470), ll=0.72, lw=0.75),
]

bin_left = T_START + BIN_WIDTH * np.arange(len(HIST_BEFORE_DAY3))

for p in PANELS:
    x0, x1 = p["hx"]
    ytop, ybot = p["hy"]
    ax = fig.add_axes(rect(x0, x1, ytop, ybot))
    vals = np.minimum(np.array(p["hist"]), 15)
    ax.bar(bin_left, vals, width=BIN_WIDTH, align="edge", color="black",
           linewidth=0, zorder=1)
    ax.set_xlim(T_START, T_END)
    ax.set_ylim(0, 15)
    for s in ["top", "right"]:
        ax.spines[s].set_visible(False)
    for s in ["left", "bottom"]:
        ax.spines[s].set_linewidth(1.0)
        ax.spines[s].set_zorder(3)
    ax.set_xticks(X_TICKS)
    ax.set_xticklabels([str(t) for t in X_TICKS])
    ax.xaxis.set_minor_locator(MultipleLocator(0.5))
    ax.set_yticks(Y_TICKS)
    ax.set_yticklabels(Y_TICK_LABELS)
    ax.yaxis.set_minor_locator(MultipleLocator(1))
    ax.tick_params(axis="x", which="major", direction="out", length=6, width=1,
                   labelsize=13.5, pad=4)
    ax.tick_params(axis="x", which="minor", direction="out", length=3, width=1)
    ax.tick_params(axis="y", which="major", direction="out", length=5, width=1,
                   labelsize=13.5, pad=2)
    ax.tick_params(axis="y", which="minor", direction="in", length=3, width=0.8)
    ty = 0.885 if ytop < 300 else 0.83
    if p["side"] == "left":
        ax.text(0.02, ty, p["day"], transform=ax.transAxes,
                ha="left", va="center", fontsize=11, style="italic", color="#595959")
    else:
        ax.text(0.978, ty, p["day"], transform=ax.transAxes,
                ha="right", va="center", fontsize=11, style="italic", color="#595959")

    # raster
    r0, r1 = p["ry"]
    rax = fig.add_axes(rect(x0, x1, r0, r1))
    trials = p["raster"]
    n = len(trials)
    rax.eventplot(trials, orientation="horizontal", lineoffsets=np.arange(n),
                  linelengths=p["ll"], linewidths=p["lw"], colors="black")
    rax.set_xlim(T_START, T_END)
    rax.set_ylim(n - 0.5, -0.5)
    rax.axis("off")

# column titles and x labels
col_centers = [217, 607, 992]
for cx, title in zip(col_centers, COLUMN_TITLES):
    fig.text(cx / W, 1 - 18 / H, title, ha="center", va="center",
             fontsize=11.5, fontweight="bold")
for cx in [215, 604, 993]:
    fig.text(cx / W, 1 - 632 / H, "Time from S+ entry (s)", ha="center", va="center",
             fontsize=13, fontweight="bold")

# y labels
for cy in [251, 531]:
    fig.text(20 / W, 1 - cy / H, "Firing rate  (Hz)", ha="center", va="center",
             rotation=90, fontsize=13, fontweight="bold")

fig.savefig("out.png", dpi=100)
